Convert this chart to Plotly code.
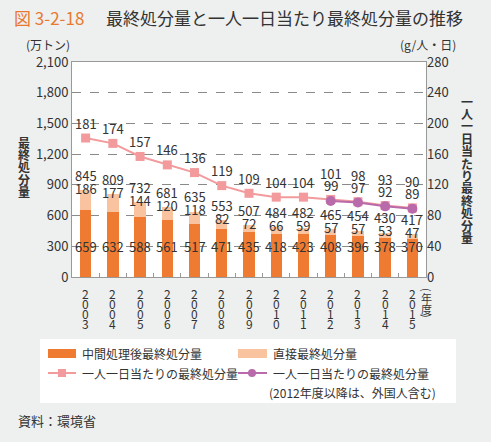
import plotly.graph_objects as go

years = ["2003", "2004", "2005", "2006", "2007", "2008", "2009", "2010", "2011", "2012", "2013", "2014", "2015"]
intermediate = [659, 632, 588, 561, 517, 471, 435, 418, 423, 408, 396, 378, 370]
direct = [186, 177, 144, 120, 118, 82, 72, 66, 59, 57, 57, 53, 47]
totals = [845, 809, 732, 681, 635, 553, 507, 484, 482, 465, 454, 430, 417]
per_capita = [181, 174, 157, 146, 136, 119, 109, 104, 104, 101, 98, 93, 90]
per_capita_foreign = [None, None, None, None, None, None, None, None, None, 99, 97, 92, 89]
left_ticks = [0, 300, 600, 900, 1200, 1500, 1800, 2100]
right_ticks = [0, 40, 80, 120, 160, 200, 240, 280]

W, H = 491, 442
L, R, T, B = 72, 426, 62, 277
PW, PH = R - L, B - T
YMAX, Y2MAX = 2100, 280
ppu = PH / YMAX

FONT = "Noto Sans CJK JP"
TXT = "#333333"
ORANGE = "#ee7b31"
LIGHT = "#f8c39e"
PINK = "#f29a9c"
PURPLE = "#b86aab"
BG = "#eef0ef"


def px(x):
    return (x - L) / PW


def py(y):
    return (B - y) / PH


fig = go.Figure()
fig.add_trace(go.Bar(x=years, y=intermediate, marker_color=ORANGE, width=0.42,
                     marker_line_width=0, name="中間処理後最終処分量", showlegend=False))
fig.add_trace(go.Bar(x=years, y=direct, marker_color=LIGHT, width=0.42,
                     marker_line_width=0, name="直接最終処分量", showlegend=False))
fig.add_trace(go.Scatter(x=years, y=per_capita, yaxis="y2", mode="lines+markers",
                         line=dict(color=PINK, width=2),
                         marker=dict(symbol="square", size=9, color=PINK),
                         showlegend=False))
fig.add_trace(go.Scatter(x=years, y=per_capita_foreign, yaxis="y2", mode="lines+markers",
                         line=dict(color=PURPLE, width=2),
                         marker=dict(symbol="circle", size=10, color=PURPLE),
                         showlegend=False))

ann = []
lab_font = dict(family=FONT, size=13, color=TXT)


def note(**kw):
    kw.setdefault("showarrow", False)
    kw.setdefault("xanchor", "center")
    kw.setdefault("yanchor", "middle")
    ann.append(kw)


for i, yr in enumerate(years):
    top_h = totals[i] * ppu
    mid_h = (intermediate[i] + totals[i]) / 2 * ppu
    direct_h = max(mid_h, top_h + 2)
    total_h = max(top_h + 9, direct_h + 13)
    note(x=i, xref="x", y=0, yref="y", text=str(totals[i]), yshift=total_h, font=lab_font)
    note(x=i, xref="x", y=0, yref="y", text=str(direct[i]), yshift=direct_h, font=lab_font)
    note(x=i, xref="x", y=300, yref="y", text=str(intermediate[i]), font=lab_font)
    if per_capita_foreign[i] is not None:
        note(x=i, xref="x", y=per_capita_foreign[i], yref="y2", text=str(per_capita_foreign[i]),
             yshift=15, font=lab_font)
        note(x=i, xref="x", y=per_capita[i], yref="y2", text=str(per_capita[i]),
             yshift=26, font=lab_font)
    else:
        note(x=i, xref="x", y=per_capita[i], yref="y2", text=str(per_capita[i]),
             yshift=15, font=lab_font)
    for k, ch in enumerate(yr):
        note(x=i, xref="x", y=py(293 + k * 10), yref="paper", text=ch,
             font=dict(family=FONT, size=12, color=TXT))

# (年度)
note(x=px(427), y=py(290), xref="paper", yref="paper", text="(", textangle=90,
     font=dict(family=FONT, size=11, color=TXT))
note(x=px(427), y=py(298), xref="paper", yref="paper", text="年",
     font=dict(family=FONT, size=11, color=TXT))
note(x=px(427), y=py(309), xref="paper", yref="paper", text="度",
     font=dict(family=FONT, size=11, color=TXT))
note(x=px(427), y=py(316), xref="paper", yref="paper", text=")", textangle=90,
     font=dict(family=FONT, size=11, color=TXT))

# axis titles (vertical)
for k, ch in enumerate("最終処分量"):
    note(x=px(24), y=py(142 + k * 12.4), xref="paper", yref="paper", text=f"<b>{ch}</b>",
         font=dict(family=FONT, size=12, color=TXT))
for k, ch in enumerate("一人一日当たり最終処分量"):
    note(x=px(467), y=py(101 + k * 12.4), xref="paper", yref="paper", text=f"<b>{ch}</b>",
         font=dict(family=FONT, size=12, color=TXT))

# units
note(x=px(48), y=py(45), xref="paper", yref="paper", text="(万トン)",
     font=dict(family=FONT, size=12, color=TXT))
note(x=px(428), y=py(45), xref="paper", yref="paper", text="(g/人・日)",
     font=dict(family=FONT, size=12, color=TXT))

# title
note(x=px(12), y=py(17), xref="paper", yref="paper", text="図 3-2-18", xanchor="left",
     font=dict(family=FONT, size=17, color="#e8792f"))
note(x=px(104), y=py(17), xref="paper", yref="paper",
     text="最終処分量と一人一日当たり最終処分量の推移", xanchor="left",
     font=dict(family=FONT, size=17, color=TXT))

# source
note(x=px(16), y=py(420), xref="paper", yref="paper", text="資料：環境省", xanchor="left",
     font=dict(family=FONT, size=13, color=TXT))

# legend (manual)
leg_font = dict(family=FONT, size=12, color=TXT)
legend_items = [
    (80, 353, "中間処理後最終処分量"),
    (271, 353, "直接最終処分量"),
    (80, 373, "一人一日当たりの最終処分量"),
    (271, 373, "一人一日当たりの最終処分量"),
    (267, 392, "(2012年度以降は、外国人含む)"),
]
for x0, y0, t in legend_items:
    note(x=px(x0), y=py(y0), xref="paper", yref="paper", text=t, xanchor="left", font=leg_font)

shapes = [
    dict(type="rect", xref="paper", yref="paper", x0=px(40), x1=px(456), y0=py(339), y1=py(403),
         fillcolor="white", line_width=0, layer="below"),
    dict(type="rect", xref="paper", yref="paper", x0=px(48), x1=px(76), y0=py(349), y1=py(358),
         fillcolor=ORANGE, line_width=0),
    dict(type="rect", xref="paper", yref="paper", x0=px(238), x1=px(267), y0=py(349), y1=py(358),
         fillcolor=LIGHT, line_width=0),
    dict(type="line", xref="paper", yref="paper", x0=px(48), x1=px(76), y0=py(373), y1=py(373),
         line=dict(color=PINK, width=2)),
    dict(type="rect", xref="paper", yref="paper", x0=px(58), x1=px(66), y0=py(369), y1=py(377),
         fillcolor=PINK, line_width=0),
    dict(type="line", xref="paper", yref="paper", x0=px(238), x1=px(267), y0=py(373), y1=py(373),
         line=dict(color=PURPLE, width=2)),
    dict(type="circle", xref="paper", yref="paper", x0=px(248), x1=px(256), y0=py(369), y1=py(377),
         fillcolor=PURPLE, line_width=0),
]

axis_font = dict(family=FONT, size=13, color=TXT)
fig.update_layout(
    width=W, height=H,
    margin=dict(l=L, r=W - R, t=T, b=H - B, pad=0, autoexpand=False),
    paper_bgcolor=BG, plot_bgcolor="white",
    barmode="stack",
    showlegend=False,
    hovermode=False,
    annotations=ann, shapes=shapes,
    xaxis=dict(type="category", showticklabels=False, showline=True, linecolor="#999999",
               linewidth=1, mirror=True, ticks="inside", ticklen=4, tickcolor="#999999",
               tickson="boundaries", showgrid=False, range=[-0.5, len(years) - 0.5],
               automargin=False),
    yaxis=dict(range=[0, YMAX], tickvals=left_ticks, ticktext=[f"{v:,}" for v in left_ticks],
               showgrid=True, gridcolor="#8a8a8a", griddash="dash", gridwidth=1,
               showline=True, linecolor="#999999", linewidth=1, mirror=True,
               tickfont=axis_font, ticks="", zeroline=False, automargin=False),
    yaxis2=dict(range=[0, Y2MAX], tickvals=right_ticks, overlaying="y", side="right",
                showgrid=False, tickfont=axis_font, ticks="", zeroline=False, showline=False,
                automargin=False),
)

fig.write_html("out.html", config={"displayModeBar": False},
               post_script="document.body.style.margin='0';")
